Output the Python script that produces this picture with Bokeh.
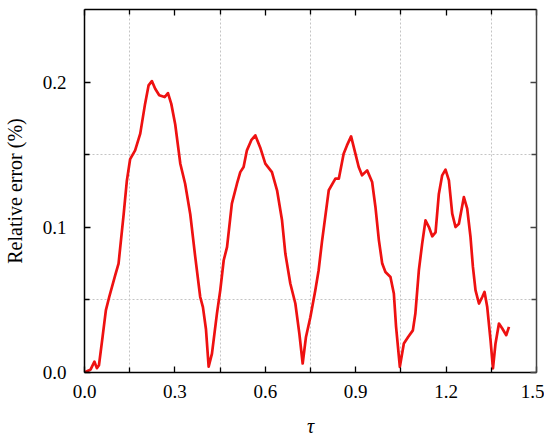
from bokeh.plotting import figure
from bokeh.models import LinearAxis, FixedTicker, Range1d, PrintfTickFormatter, CustomJSTickFormatter
from bokeh.embed import file_html
from bokeh.resources import INLINE

# Data (tau, relative error in %)
tau = [0.000, 0.010, 0.020, 0.033, 0.041, 0.048, 0.060, 0.071, 0.082, 0.102, 0.113,
       0.130, 0.1405, 0.1515, 0.168, 0.185, 0.201, 0.2126, 0.2236, 0.2346, 0.248,
       0.266, 0.277, 0.288, 0.301, 0.318, 0.334, 0.351, 0.3675, 0.384, 0.393, 0.403,
       0.412, 0.423, 0.4395, 0.4505, 0.462, 0.473, 0.489, 0.506, 0.517, 0.528, 0.539,
       0.5535, 0.567, 0.583, 0.600, 0.622, 0.639, 0.6555, 0.6665, 0.683, 0.6997,
       0.713, 0.724, 0.735, 0.7495, 0.766, 0.777, 0.788, 0.8106, 0.8326, 0.844,
       0.860, 0.871, 0.8847, 0.899, 0.910, 0.921, 0.938, 0.9545, 0.9655, 0.977,
       0.988, 0.9987, 1.0153, 1.0266, 1.034, 1.0465, 1.0598, 1.074, 1.0897, 1.098,
       1.1096, 1.1206, 1.1316, 1.143, 1.154, 1.165, 1.1759, 1.187, 1.198, 1.2093,
       1.2203, 1.2312, 1.2425, 1.259, 1.270, 1.281, 1.289, 1.2977, 1.309, 1.320,
       1.3276, 1.3365, 1.3475, 1.3555, 1.364, 1.3754, 1.3864, 1.3997, 1.4086]
rel_error = [0.000, 0.001, 0.002, 0.0075, 0.003, 0.005, 0.0245, 0.043, 0.052, 0.067,
             0.075, 0.109, 0.132, 0.147, 0.153, 0.1645, 0.185, 0.1977, 0.2007, 0.1954,
             0.191, 0.1897, 0.1924, 0.185, 0.171, 0.1438, 0.130, 0.109, 0.0796, 0.052,
             0.045, 0.030, 0.004, 0.013, 0.0406, 0.0566, 0.0773, 0.0864, 0.1163, 0.130,
             0.138, 0.1415, 0.153, 0.160, 0.1633, 0.155, 0.1438, 0.138, 0.1255, 0.1048,
             0.0819, 0.0613, 0.0475, 0.0268, 0.0062, 0.0245, 0.038, 0.0566, 0.0704,
             0.090, 0.1255, 0.1335, 0.1335, 0.1507, 0.1564, 0.1626, 0.1507, 0.1415,
             0.1358, 0.1392, 0.1312, 0.114, 0.091, 0.075, 0.0692, 0.0658, 0.0544,
             0.0314, 0.0039, 0.020, 0.0245, 0.029, 0.0406, 0.0704, 0.0888, 0.1048,
             0.1002, 0.0938, 0.0965, 0.123, 0.1358, 0.1397, 0.1323, 0.1094, 0.1002,
             0.1025, 0.1208, 0.1129, 0.0933, 0.0727, 0.0566, 0.0475, 0.052, 0.0555,
             0.0451, 0.0222, 0.0028, 0.020, 0.0337, 0.0303, 0.0257, 0.0314]

x_major = [0.0, 0.3, 0.6, 0.9, 1.2, 1.5]
x_minor = [0.15, 0.45, 0.75, 1.05, 1.35]
y_major = [0.0, 0.1, 0.2]
y_minor = [0.05, 0.15]

FONT = "serif"

p = figure(frame_width=452, frame_height=363,
           x_range=Range1d(0, 1.5), y_range=Range1d(0, 0.25),
           output_backend="svg", toolbar_location=None,
           min_border_left=75, min_border_right=8, min_border_top=9,
           min_border_bottom=56)
p.outline_line_color = None
p.background_fill_color = "white"

p.line(tau, rel_error, line_color="#ee1111", line_width=2.7, line_join="round")

xt = FixedTicker(ticks=x_major, minor_ticks=x_minor)
yt = FixedTicker(ticks=y_major, minor_ticks=y_minor)

def style_axis(ax, ticker, labels=True, color="black"):
    ax.ticker = ticker
    ax.axis_line_color = color
    ax.axis_line_width = 1.5
    ax.major_tick_line_color = color
    ax.minor_tick_line_color = color
    ax.major_tick_line_width = 1.3
    ax.minor_tick_line_width = 1.3
    ax.major_tick_in = 6
    ax.major_tick_out = 0
    ax.minor_tick_in = 5
    ax.minor_tick_out = 0
    ax.major_label_text_font = FONT
    ax.major_label_text_font_size = "19px"
    ax.major_label_text_color = "black"
    ax.axis_label_text_font = FONT
    ax.axis_label_text_font_size = "20px"
    ax.axis_label_text_color = "black"
    if labels:
        ax.formatter = PrintfTickFormatter(format="%.1f")
    else:
        ax.formatter = CustomJSTickFormatter(code="return '';")
        ax.major_label_standoff = 0

xa = p.xaxis[0]
style_axis(xa, xt)
xa.axis_label = "τ"
xa.axis_label_text_font_style = "italic"
xa.major_label_standoff = 12
xa.axis_label_standoff = 14

ya = p.yaxis[0]
style_axis(ya, yt)
ya.axis_label = "Relative error (%)"
ya.axis_label_text_font_style = "normal"
ya.major_label_standoff = 18
ya.axis_label_standoff = 14

top = LinearAxis()
style_axis(top, xt, labels=False)
p.add_layout(top, "above")
right = LinearAxis()
style_axis(right, yt, labels=False, color="#444444")
p.add_layout(right, "right")

p.xgrid.ticker = xt
p.ygrid.ticker = yt
for g in (p.xgrid[0], p.ygrid[0]):
    g.grid_line_color = None
    g.minor_grid_line_color = "#c4c4c4"
    g.minor_grid_line_dash = "2 2"
    g.minor_grid_line_width = 1

open("out.html", "w").write(file_html(p, INLINE))
